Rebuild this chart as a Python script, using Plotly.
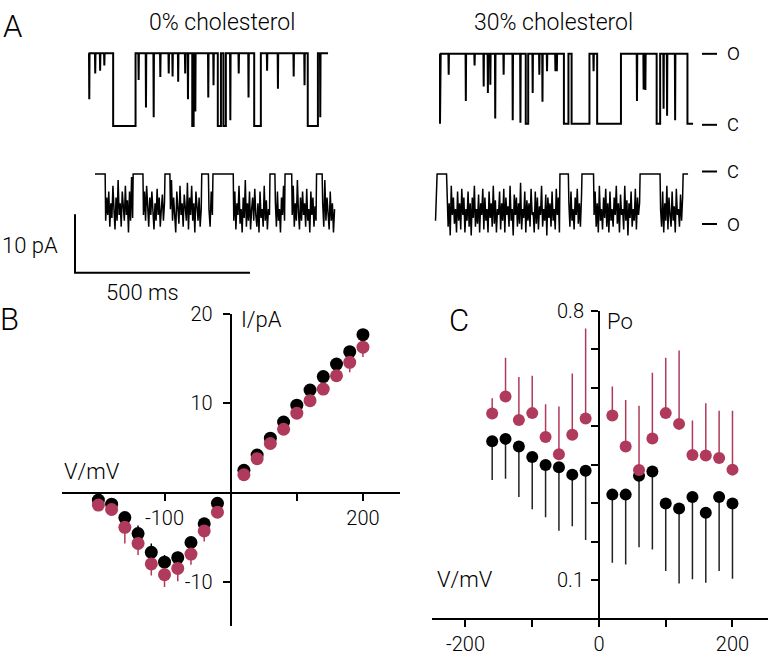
import plotly.graph_objects as go

W, H = 770, 656
RED = "#B03A5B"
BLK = "#000000"
FONT = "Roboto, Liberation Sans, Arial, sans-serif"

# ---------------- Panel A: single-channel traces (idealised) -------------
# time in ms, current in pA
TL_OPEN, TL_END = 12.5, 683
TL_DIP_T = [0, 17, 31, 43, 141, 162, 184, 203, 227, 238, 254, 274, 282, 303, 340, 355, 403, 427, 455, 508, 539, 584, 615, 660]
TL_DIP_I = [4.6, 9.0, 9.5, 10.4, 7.9, 3.2, 1.5, 8.4, 9.0, 8.5, 7.6, 9.0, 4.6, 2.5, 4.9, 7.0, 1.0, 9.0, 4.9, 9.5, 6.4, 8.5, 7.0, 1.5]
TL_SHUT_START = [69, 295, 368, 384, 472, 625]
TL_SHUT_END = [133, 299, 377, 391, 491, 654]

TR_OPEN, TR_END = 12.0, 723
TR_DIP_T = [24, 73, 98, 124, 136, 143, 157, 181, 207, 229, 264, 283, 292, 305, 329, 333, 438, 562, 581, 586, 638, 648, 671]
TR_DIP_I = [8.4, 3.9, 10.0, 6.4, 5.3, 6.7, 0.9, 8.4, 0.6, 0.2, 5.3, 8.4, 3.8, 9.0, 9.0, 9.0, 9.0, 3.9, 5.9, 5.8, 2.6, 1.4, 0.6]
TR_SHUT_START = [0, 245, 354, 376, 449, 619, 707]
TR_SHUT_END = [2, 252, 367, 427, 517, 629, 723]

# bottom traces: closed (0 pA) stretches and bursts of flickering openings
BL_SHUT_START = [0, 109, 200, 305, 337, 500, 543, 633]
BL_SHUT_END = [29, 137, 214, 324, 395, 514, 562, 649]
BL_BURST_START = [29, 137, 214, 324, 395, 514, 562, 649]
BL_BURST_END = [109, 200, 305, 337, 500, 543, 633, 686]
BL_BURSTS = [
    [-8, -4, -7, -3, -9, -5, -7.5, -2, -6, -9.5, -4, -8, -1, -7, -5, -9, -3, -6.5, -8, -2, -7, -4.5, -10, -3, -8, -0.5, -7.5],
    [-7, -3, -8, -2, -5.5, -9, -4, -7, -3, -6, -9.5, -5, -8, -2.5, -7, -4, -9, -6, -3.5, -8, -5],
    [-6, -1, -8, -4, -7, -10, -3, -6, -8.5, -2, -7, -5, -9, -3.5, -6, -8, -1.5, -9.5, -4, -7, -2, -8, -5, -10, -3, -6.5, -8, -4, -9, -6],
    [-6, -9, -3, -7],
    [-8, -3, -9.5, -5, -7, -2, -8.5, -6, -10, -4, -7.5, -1, -9, -5, -8, -3, -9.5, -6, -4, -8, -2.5, -7, -9, -5, -10, -3, -7.5, -6, -9, -2, -8, -4.5, -9.5, -6, -7],
    [-5, -9, -3, -8, -6, -10, -4, -7, -2, -8],
    [-7, -2, -9, -5, -8, -1, -6.5, -9.5, -4, -8, -3, -7, -5, -9, -2.5, -8, -6, -10, -3, -7, -4, -9, -5.5, -8],
    [-5, -9, -1, -8, -4, -7, -9.5, -3, -8, -5, -10, -6],
]

BR_SHUT_START = [6, 357, 420, 586, 709]
BR_SHUT_END = [33, 381, 453, 643, 723]
BR_BURST_START = [0, 33, 381, 453, 643]
BR_BURST_END = [6, 357, 420, 586, 709]
BR_BURSTS = [
    [-8, -4],
    [-3, -9, -5, -10.5, -2, -7, -4, -8.5, -6, -10, -3, -8, -5, -9.5, -2.5, -7, -4, -10, -6, -8,
     -3, -9, -5, -10.5, -4, -7.5, -2, -9, -6, -8.5, -3.5, -10, -5, -7, -2.5, -9.5, -4, -8, -6, -10,
     -3, -7.5, -5, -9, -2, -8.5, -4.5, -10, -6, -7, -3, -9.5, -5, -8, -2.5, -10, -4, -7, -5.5, -9,
     -2, -8, -6, -10.5, -3.5, -7, -4, -9, -5, -8.5, -1.5, -9.5, -6, -7.5, -3, -10, -4.5, -8, -5, -9,
     -2.5, -7, -6.5, -10, -3, -8.5, -4, -9.5, -5.5, -7, -2, -9, -6, -8, -3.5, -10.5, -4, -7.5, -5, -9,
     -3, -8, -6, -9.5, -2.5, -7, -4, -10],
    [-5, -9, -3, -8, -6, -9.5, -4, -7, -2.5, -8.5, -5, -9, -4],
    [-7, -3, -9, -5, -10, -2, -8, -6, -9.5, -4, -7.5, -2.5, -9, -5, -10, -3, -8, -6, -9, -4, -7, -2,
     -8.5, -5, -10, -3.5, -7, -6, -9.5, -2, -8, -4.5, -10.5, -5, -7.5, -3, -9, -6, -8, -2.5, -9.5, -4, -7, -5],
    [-6, -9, -3, -10, -5, -8, -2, -9.5, -4, -7, -9, -3, -8, -5.5, -10, -2.5, -7, -6, -9, -3.5, -8, -4],
]

SCALE_MS, SCALE_PA = 500, 10

# ---------------- Panel B: I-V ----------------
V_NEG = [-200, -180, -160, -140, -120, -100, -80, -60, -40, -20]
V_POS = [20, 40, 60, 80, 100, 120, 140, 160, 180, 200]
B_V = V_NEG + V_POS
B_I_0 = [-0.84, -1.3, -2.8, -4.6, -6.7, -7.8, -7.3, -5.6, -3.5, -1.2,
         2.5, 4.2, 6.1, 7.9, 9.8, 11.5, 13.0, 14.4, 15.8, 17.7]
B_E_0 = [0.5, 0.3, 0.6, 0.9, 1.0, 0.8, 0.7, 0.5, 0.5, 0.3,
         0, 0, 0, 0, 0, 0, 0, 0, 0, 0]
B_I_30 = [-1.4, -1.9, -3.9, -5.7, -8.0, -9.2, -8.5, -6.9, -4.3, -2.2,
          2.0, 3.8, 5.5, 7.1, 8.9, 10.3, 11.6, 13.1, 14.6, 16.3]
B_E_30 = [0.3, 0.3, 1.8, 1.3, 1.3, 1.4, 1.45, 1.2, 1.2, 0.5,
          0.3, 0.3, 0.3, 0.3, 0.3, 0.3, 0.3, 0.3, 1.1, 1.1]

# ---------------- Panel C: Po-V ----------------
C_V = [-160, -140, -120, -100, -80, -60, -40, -20, 20, 40, 60, 80, 100, 120, 140, 160, 180, 200]
C_P_0 = [0.461, 0.467, 0.447, 0.420, 0.399, 0.393, 0.374, 0.384,
         0.322, 0.322, 0.371, 0.382, 0.299, 0.286, 0.316, 0.275, 0.316, 0.299]
C_E_0 = [0.101, 0.104, 0.131, 0.136, 0.136, 0.165, 0.134, 0.180,
         0.177, 0.182, 0.186, 0.203, 0.176, 0.195, 0.214, 0.182, 0.193, 0.196]
C_P_30 = [0.533, 0.577, 0.516, 0.534, 0.472, 0.427, 0.478, 0.520,
          0.528, 0.447, 0.386, 0.468, 0.534, 0.506, 0.425, 0.424, 0.417, 0.387]
C_E_30 = [0.040, 0.101, 0.112, 0.097, 0.085, 0.124, 0.159, 0.234,
          0.075, 0.121, 0.167, 0.171, 0.144, 0.191, 0.090, 0.136, 0.123, 0.153]


# ---------------- helpers ----------------
def dom_x(a, b):
    return [a / W, b / W]


def dom_y(top, bottom):
    return [1 - bottom / H, 1 - top / H]


def rng_x(a, b, zero_px, ppu):
    return [(a - zero_px) / ppu, (b - zero_px) / ppu]


def rng_y(top, bottom, zero_py, ppu):
    return [(zero_py - bottom) / ppu, (zero_py - top) / ppu]


def step_path(open_lvl, t_end, dip_t, dip_i, s_start, s_end):
    ev = [(t, "d", v) for t, v in zip(dip_t, dip_i)] + [(a, "s", b) for a, b in zip(s_start, s_end)]
    ev.sort(key=lambda e: e[0])
    xs, ys = [0], [open_lvl]
    for t, kind, v in ev:
        if kind == "d":
            xs += [t, t + 0.8, t + 1.6]
            ys += [open_lvl, v, open_lvl]
        else:
            xs += [t, t, v]
            ys += [open_lvl, 0, 0]
            if v < t_end:
                xs.append(v)
                ys.append(open_lvl)
    if xs[-1] < t_end:
        xs.append(t_end)
        ys.append(ys[-1])
    return xs, ys


def burst_path(s_start, s_end, b_start, b_end, bursts):
    segs = [(a, "s", b, None) for a, b in zip(s_start, s_end)]
    segs += [(a, "b", b, vals) for a, b, vals in zip(b_start, b_end, bursts)]
    segs.sort(key=lambda e: e[0])
    xs, ys = [], []
    for a, kind, b, vals in segs:
        if kind == "s":
            xs += [a, b]
            ys += [0, 0]
        else:
            n = len(vals)
            ts = [a + (b - a) * (k + 0.5) / n for k in range(n)]
            xs += ts
            ys += list(vals)
    return xs, ys


fig = go.Figure()
top_line = dict(color=BLK, width=2)
bot_line = dict(color=BLK, width=1.5)

x, y = step_path(TL_OPEN, TL_END, TL_DIP_T, TL_DIP_I, TL_SHUT_START, TL_SHUT_END)
fig.add_trace(go.Scatter(x=x, y=y, mode="lines", line=top_line, xaxis="x", yaxis="y"))
x, y = step_path(TR_OPEN, TR_END, TR_DIP_T, TR_DIP_I, TR_SHUT_START, TR_SHUT_END)
fig.add_trace(go.Scatter(x=x, y=y, mode="lines", line=top_line, xaxis="x2", yaxis="y2"))
x, y = burst_path(BL_SHUT_START, BL_SHUT_END, BL_BURST_START, BL_BURST_END, BL_BURSTS)
fig.add_trace(go.Scatter(x=x, y=y, mode="lines", line=bot_line, xaxis="x3", yaxis="y3"))
x, y = burst_path(BR_SHUT_START, BR_SHUT_END, BR_BURST_START, BR_BURST_END, BR_BURSTS)
fig.add_trace(go.Scatter(x=x, y=y, mode="lines", line=bot_line, xaxis="x4", yaxis="y4"))
# scale bar
fig.add_trace(go.Scatter(x=[0, 0, SCALE_MS], y=[SCALE_PA, 0, 0], mode="lines",
                         line=dict(color=BLK, width=2), xaxis="x5", yaxis="y5"))

# Panel B
fig.add_trace(go.Scatter(x=B_V, y=B_I_0, mode="markers", xaxis="x6", yaxis="y6",
                         marker=dict(color=BLK, size=13),
                         error_y=dict(type="data", symmetric=False, array=B_E_0,
                                      arrayminus=[0] * len(B_E_0), color=BLK, thickness=1.5, width=0)))
fig.add_trace(go.Scatter(x=B_V, y=B_I_30, mode="markers", xaxis="x6", yaxis="y6",
                         marker=dict(color=RED, size=13),
                         error_y=dict(type="data", symmetric=False, array=[0] * len(B_E_30),
                                      arrayminus=B_E_30, color=RED, thickness=1.5, width=0)))
# Panel C
fig.add_trace(go.Scatter(x=C_V, y=C_P_0, mode="markers", xaxis="x7", yaxis="y7",
                         marker=dict(color=BLK, size=12),
                         error_y=dict(type="data", symmetric=False, array=[0] * len(C_E_0),
                                      arrayminus=C_E_0, color="#222222", thickness=1.5, width=0)))
fig.add_trace(go.Scatter(x=C_V, y=C_P_30, mode="markers", xaxis="x7", yaxis="y7",
                         marker=dict(color=RED, size=12),
                         error_y=dict(type="data", symmetric=False, array=C_E_30,
                                      arrayminus=[0] * len(C_E_30), color=RED, thickness=1.5, width=0)))

hidden = dict(visible=False, fixedrange=True)
PX_MS, PX_PA = 0.35, 6.0
TICK_SIZE = 20

layout = dict(
    width=W, height=H, margin=dict(l=0, r=0, t=0, b=0),
    paper_bgcolor="white", plot_bgcolor="rgba(0,0,0,0)", showlegend=False,
    font=dict(family=FONT, size=TICK_SIZE, color=BLK, weight=300),
    xaxis=dict(hidden, domain=dom_x(86, 332), range=rng_x(86, 332, 89, PX_MS), anchor="y"),
    yaxis=dict(hidden, domain=dom_y(28, 125), range=rng_y(28, 125, 117.3, PX_PA), anchor="x"),
    xaxis2=dict(hidden, domain=dom_x(437, 697), range=rng_x(437, 697, 440, PX_MS), anchor="y2"),
    yaxis2=dict(hidden, domain=dom_y(28, 125), range=rng_y(28, 125, 115, PX_PA), anchor="x2"),
    xaxis3=dict(hidden, domain=dom_x(92, 338), range=rng_x(92, 338, 95, PX_MS), anchor="y3"),
    yaxis3=dict(hidden, domain=dom_y(150, 235), range=rng_y(150, 235, 166.7, PX_PA), anchor="x3"),
    xaxis4=dict(hidden, domain=dom_x(432, 692), range=rng_x(432, 692, 435, PX_MS), anchor="y4"),
    yaxis4=dict(hidden, domain=dom_y(150, 235), range=rng_y(150, 235, 166.7, PX_PA), anchor="x4"),
    xaxis5=dict(hidden, domain=dom_x(68, 260), range=rng_x(68, 260, 75, PX_MS), anchor="y5"),
    yaxis5=dict(hidden, domain=dom_y(200, 275), range=rng_y(200, 275, 268, PX_PA), anchor="x5"),
)

axis_common = dict(showgrid=False, zeroline=False, showline=True, linecolor=BLK, linewidth=2,
                   ticks="outside", ticklen=7, tickwidth=2, tickcolor=BLK, fixedrange=True,
                   tickfont=dict(size=TICK_SIZE, family=FONT, color=BLK, weight=300))

layout["xaxis6"] = dict(axis_common, domain=dom_x(62, 400), range=[-255, 256], anchor="free",
                        position=1 - 494.1 / H, tickmode="array", tickvals=[-100, 100, 200],
                        ticktext=["-100", "", "200"])
layout["yaxis6"] = dict(axis_common, domain=dom_y(310.7, 631.7), range=[-15, 20], anchor="free",
                        position=230.7 / W, tickmode="array", tickvals=[20, 10, -10],
                        ticktext=["20", "10", "-10"], ticklabelstandoff=6)
layout["xaxis7"] = dict(axis_common, domain=dom_x(431.7, 768), range=[-250.6, 253.2], anchor="y7",
                        tickmode="array", tickvals=[-200, -100, 0, 100, 200],
                        ticktext=["-200", "", "0", "", "200"])
layout["yaxis7"] = dict(axis_common, domain=dom_y(307.3, 623.5), range=[0, 0.8], anchor="free",
                        position=599 / W, tickmode="array",
                        tickvals=[0.1, 0.2, 0.3, 0.4, 0.5, 0.6, 0.7, 0.8],
                        ticktext=["0.1", "", "", "", "", "", "", "0.8"], ticklabelstandoff=3)
fig.update_layout(**layout)


def label(text, px, py, size=22, xanchor="center"):
    fig.add_annotation(text=text, x=px / W, y=1 - py / H, xref="paper", yref="paper",
                       showarrow=False, xanchor=xanchor, yanchor="middle",
                       font=dict(size=size, family=FONT, color=BLK, weight=300))


label("A", 13, 15, 31)
label("B", 9, 316, 31)
label("C", 459, 317, 31)
label("0% cholesterol", 222, 11, 23)
label("30% cholesterol", 553, 11, 23)
label("10 pA", 0, 240, 22, "left")
label("500 ms", 104, 288, 22, "left")
label("I/pA", 239, 316, 22, "left")
label("V/mV", 62, 472, 22, "left")
label("Po", 605, 318, 22, "left")
label("V/mV", 435, 584, 22, "left")
for txt, py in [("o", 42), ("c", 115), ("c", 163), ("o", 217)]:
    label(txt, 733, py, 23)
    fig.add_shape(type="line", xref="paper", yref="paper", x0=702 / W, x1=717 / W,
                  y0=1 - (py + 1) / H, y1=1 - (py + 1) / H, line=dict(color=BLK, width=2))

fig.write_html("out.html", config={"displayModeBar": False},
               post_script="document.body.style.margin='0';")
